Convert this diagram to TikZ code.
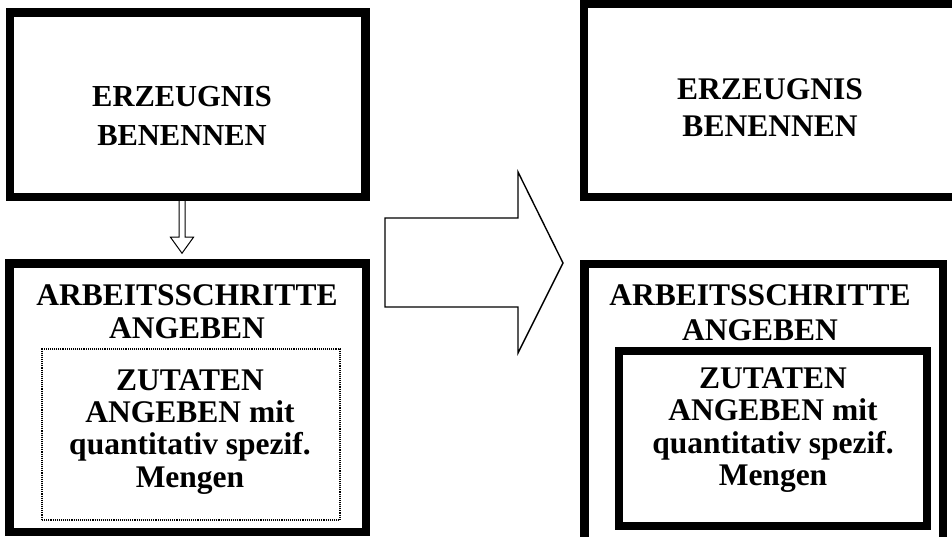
\documentclass[tikz,border=0pt]{standalone}
\usepackage{fontspec}
\setmainfont{Liberation Serif}
\usetikzlibrary{calc}
\begin{document}
\begin{tikzpicture}[x=1pt,y=-1pt,
  heavy/.style={draw=black, line width=8.5pt, inner sep=0pt, minimum width=#1},
  dotbox/.style={draw=black, line width=1.1pt, densely dotted, inner sep=0pt},
  boxtext/.style={align=center, inner sep=0pt, anchor=base, font=\bfseries\fontsize{31.5}{#1}\selectfont},
  hollow/.style={draw=black, line width=1.4pt, fill=white, line join=miter}]
\useasboundingbox (0,0) rectangle (952,537);
\clip (0,0) rectangle (952,537);
\fill[white] (0,0) rectangle (952,537);

% left column (text anchored at the baseline of its last line)
\node[heavy=355.5pt, minimum height=184.5pt] (b1) at (187.75,104.75) {};
\node[heavy=356.5pt, minimum height=268.5pt] (b2) at (187.75,397.75) {};
\node[dotbox, minimum width=298pt, minimum height=171pt] (d1) at (191,434.5) {};
\node[boxtext=39pt, font=\bfseries\fontsize{30.5}{39}\selectfont] (t1) at (182,146) {ERZEUGNIS\\BENENNEN};
\node[boxtext=33pt] (t2) at (187,338) {ARBEITSSCHRITTE\\ANGEBEN};
\node[boxtext=32.3pt] (t3) at (190,487) {ZUTATEN\\ANGEBEN mit\\quantitativ spezif.\\Mengen};

% small hollow arrow from b1 to b2
\coordinate (s) at ($(b1.south)+(-5.75,0)$);
\draw[hollow, line width=1pt] ($(s)+(-3,0)$) -- ++(0,36) -- ++(-8.5,0) -- ($(s)+(0,52)$)
  -- ($(s)+(11.5,36)$) -- ++(-8.5,0) -- ($(s)+(3,0)$);

% big hollow arrow between the columns
\draw[hollow] (385,218) -- (518,218) -- (518,172) -- (563,263) -- (518,353) -- (518,307) -- (385,307) -- cycle;

% right column
\node[heavy=416pt, minimum height=193pt] (b3) at (792,100.5) {};
\node[heavy=358.5pt, minimum height=296pt] (b4) at (763.75,412) {};
\node[boxtext=37pt] (t4) at (770,137) {ERZEUGNIS\\BENENNEN};
\node[boxtext=35pt] (t5) at (760,340) {ARBEITSSCHRITTE\\ANGEBEN};
\node[heavy=308pt, minimum height=175pt] (b5) at (773,438.5) {};
\node[boxtext=32.5pt] (t6) at (773,485.5) {ZUTATEN\\ANGEBEN mit\\quantitativ spezif.\\Mengen};
\end{tikzpicture}
\end{document}
